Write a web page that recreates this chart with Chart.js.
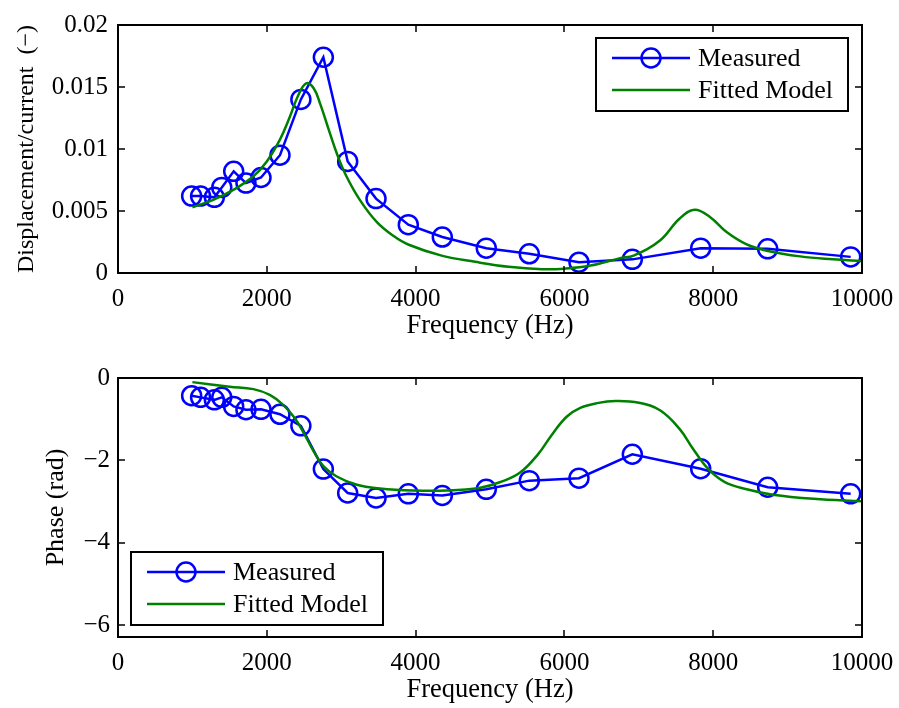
<!DOCTYPE html>
<html lang="en">
<head>
<meta charset="UTF-8">
<title>Frequency response: magnitude and phase</title>
<script src="https://cdn.jsdelivr.net/npm/chart.js"></script>
<style>
  html, body { margin: 0; padding: 0; background: #fff; }
  .panel { position: absolute; left: 0; width: 899px; }
  #top { top: 0; height: 350px; }
  #bottom { top: 355px; height: 353px; }
</style>
</head>
<body>
<div class="panel" id="top"><canvas id="magChart" width="899" height="350"></canvas></div>
<div class="panel" id="bottom"><canvas id="phaseChart" width="899" height="353"></canvas></div>

<script>
// measured points (Hz)
const freqMeasured = [990, 1110, 1295, 1395, 1555, 1720, 1922, 2177, 2458, 2760, 3087,
                      3468, 3902, 4359, 4950, 5528, 6196, 6913, 7832, 8732, 9848];
const magMeasured = [0.0062, 0.0062, 0.0061, 0.0069, 0.0082, 0.00725, 0.0077, 0.0095, 0.0140, 0.0174, 0.0090,
                     0.0060, 0.0039, 0.0029, 0.0020, 0.00155, 0.00087, 0.0011, 0.0020, 0.00195, 0.0013];
const phaseMeasured = [-0.43, -0.47, -0.53, -0.47, -0.69, -0.77, -0.76, -0.88, -1.16, -2.21, -2.79,
                       -2.91, -2.81, -2.85, -2.70, -2.49, -2.43, -1.85, -2.20, -2.65, -2.81];

// fitted model, magnitude
const freqModelMag = [1000, 1280, 1550, 1820, 2000, 2180, 2310, 2420, 2530, 2630, 2720, 2830,
                      2950, 3070, 3250, 3480, 3700, 3900, 4350, 4800, 5250, 5700, 6000, 6350,
                      6750, 6930, 7280, 7550, 7750, 7960, 8180, 8450, 8720, 9170, 9610, 10000];
const magModel = [0.0053, 0.0059, 0.0067, 0.0078, 0.0090, 0.0108, 0.0126, 0.0143, 0.0153, 0.0149, 0.0136, 0.0116,
                  0.0095, 0.0078, 0.0059, 0.0041, 0.0030, 0.0023, 0.0014, 0.0009, 0.0005, 0.0003, 0.00035, 0.0006,
                  0.0012, 0.0014, 0.0026, 0.0044, 0.0051, 0.0045, 0.0033, 0.0023, 0.0018, 0.00134, 0.0011, 0.00095];

// fitted model, phase
const freqModelPhase = [1000, 1500, 1820, 2040, 2220, 2380, 2510, 2630, 2760, 2940, 3210, 3520,
                        3970, 4420, 4870, 5130, 5400, 5650, 5830, 6030, 6220, 6440, 6690, 7000,
                        7290, 7550, 7730, 7930, 8150, 8450, 8800, 9350, 10000];
const phaseModel = [-0.10, -0.21, -0.27, -0.41, -0.65, -0.98, -1.38, -1.78, -2.14, -2.39, -2.59, -2.68,
                    -2.73, -2.73, -2.66, -2.53, -2.30, -1.84, -1.38, -0.94, -0.72, -0.61, -0.56, -0.60,
                    -0.79, -1.24, -1.72, -2.20, -2.52, -2.70, -2.83, -2.93, -2.99];

const freqTicks = [0, 2000, 4000, 6000, 8000, 10000];
const magTicks = [0, 0.005, 0.01, 0.015, 0.02];
const phaseTicks = [-6, -4, -2, 0];

const BLUE = '#0000ff';
const GREEN = '#008000';
const FONT = '"Liberation Serif", "Times New Roman", serif';

Chart.defaults.font.family = FONT;
Chart.defaults.font.size = 25;
Chart.defaults.color = '#000';

const pairs = (xs, ys) => xs.map((x, i) => ({ x: x, y: ys[i] }));
const fmt = v => String(v).replace('-', '\u2212');
const setTicks = list => scale => { scale.ticks = list.map(v => ({ value: v })); };

// frame with inward ticks on all four sides
const axesBox = {
  id: 'axesBox',
  afterDatasetsDraw(chart) {
    const { ctx, chartArea: a, scales: { x, y } } = chart;
    const len = 7;
    ctx.save();
    ctx.strokeStyle = '#000';
    ctx.lineWidth = 1.5;
    ctx.beginPath();
    x.ticks.forEach(t => {
      const px = Math.round(x.getPixelForValue(t.value));
      ctx.moveTo(px, a.bottom); ctx.lineTo(px, a.bottom - len);
      ctx.moveTo(px, a.top); ctx.lineTo(px, a.top + len);
    });
    y.ticks.forEach(t => {
      const py = Math.round(y.getPixelForValue(t.value));
      ctx.moveTo(a.left, py); ctx.lineTo(a.left + len, py);
      ctx.moveTo(a.right, py); ctx.lineTo(a.right - len, py);
    });
    ctx.stroke();
    ctx.lineWidth = 2;
    ctx.strokeRect(a.left, a.top, a.right - a.left, a.bottom - a.top);
    ctx.restore();
  }
};

// boxed legend inside the axes
const boxLegend = {
  id: 'boxLegend',
  afterDraw(chart, args, opts) {
    const { ctx, chartArea: a } = chart;
    const w = 252, h = 73;
    const x0 = opts.corner === 'ne' ? a.right - opts.dx - w : a.left + opts.dx;
    const y0 = opts.corner === 'ne' ? a.top + opts.dy : a.bottom - opts.dy - h;
    ctx.save();
    ctx.fillStyle = '#fff';
    ctx.fillRect(x0, y0, w, h);
    ctx.strokeStyle = '#000';
    ctx.lineWidth = 2;
    ctx.strokeRect(x0, y0, w, h);
    chart.data.datasets.forEach((ds, i) => {
      const y = y0 + 20 + i * 32;
      ctx.strokeStyle = ds.borderColor;
      ctx.lineWidth = ds.borderWidth;
      ctx.beginPath();
      ctx.moveTo(x0 + 16, y);
      ctx.lineTo(x0 + 94, y);
      ctx.stroke();
      if (ds.pointRadius) {
        ctx.beginPath();
        ctx.arc(x0 + 55, y, ds.pointRadius, 0, 2 * Math.PI);
        ctx.stroke();
      }
      ctx.fillStyle = '#000';
      ctx.font = '26px ' + FONT;
      ctx.textAlign = 'left';
      ctx.textBaseline = 'middle';
      ctx.fillText(ds.label, x0 + 102, y + 1);
    });
    ctx.restore();
  }
};

function measuredSet(values) {
  return {
    label: 'Measured',
    data: pairs(freqMeasured, values),
    borderColor: BLUE,
    borderWidth: 2.5,
    pointStyle: 'circle',
    pointRadius: 9.5,
    pointBorderWidth: 2.5,
    pointBorderColor: BLUE,
    pointBackgroundColor: 'rgba(0,0,0,0)',
    tension: 0,
    order: 1
  };
}

function modelSet(xs, values) {
  return {
    label: 'Fitted Model',
    data: pairs(xs, values),
    borderColor: GREEN,
    borderWidth: 2.5,
    pointRadius: 0,
    tension: 0.4,
    order: 0
  };
}

function makeChart(id, cfg) {
  const canvas = document.getElementById(id);
  const H = canvas.height;
  return new Chart(canvas.getContext('2d'), {
    type: 'line',
    data: { datasets: cfg.datasets },
    options: {
      responsive: false,
      animation: false,
      layout: { padding: { top: cfg.areaTop, right: 37, bottom: 0, left: 0 } },
      plugins: {
        legend: { display: false },
        tooltip: { enabled: false },
        boxLegend: cfg.legend
      },
      scales: {
        x: {
          type: 'linear',
          min: 0,
          max: 10000,
          afterBuildTicks: setTicks(freqTicks),
          afterFit: s => {
            s.height = H - cfg.areaBottom;
            s.paddingLeft = 0;
            s.paddingRight = 0;
          },
          grid: { display: false, drawTicks: false },
          border: { display: false },
          ticks: { padding: 11, maxRotation: 0, autoSkip: false, callback: v => fmt(v) },
          title: {
            display: true, text: 'Frequency (Hz)', font: { size: 26.5 },
            padding: { top: 0, bottom: cfg.xTitlePad }
          }
        },
        y: {
          type: 'linear',
          min: cfg.yMin,
          max: cfg.yMax,
          afterBuildTicks: setTicks(cfg.yTicks),
          afterFit: s => { s.width = 118; },
          grid: { display: false, drawTicks: false },
          border: { display: false },
          ticks: { padding: cfg.yTickPad, autoSkip: false, callback: v => fmt(v) },
          title: {
            display: true, text: cfg.yTitle, align: cfg.yTitleAlign,
            font: { size: cfg.yTitleSize },
            padding: { top: cfg.yTitlePad, bottom: 0 }
          }
        }
      }
    },
    plugins: [axesBox, boxLegend]
  });
}

makeChart('magChart', {
  datasets: [measuredSet(magMeasured), modelSet(freqModelMag, magModel)],
  areaTop: 14, areaBottom: 273,
  yMin: 0, yMax: 0.02, yTicks: magTicks,
  yTitle: 'Displacement/current  (\u2212)', yTitleAlign: 'end', yTitleSize: 24,
  yTitlePad: 12, yTickPad: 10,
  xTitlePad: 8,
  legend: { corner: 'ne', dx: 14, dy: 13 }
});

makeChart('phaseChart', {
  datasets: [measuredSet(phaseMeasured), modelSet(freqModelPhase, phaseModel)],
  areaTop: 23, areaBottom: 282,
  yMin: -2 * Math.PI, yMax: 0, yTicks: phaseTicks,
  yTitle: 'Phase (rad)', yTitleAlign: 'center', yTitleSize: 26,
  yTitlePad: 41, yTickPad: 8,
  xTitlePad: 2,
  legend: { corner: 'sw', dx: 13, dy: 12 }
});
</script>
</body>
</html>
